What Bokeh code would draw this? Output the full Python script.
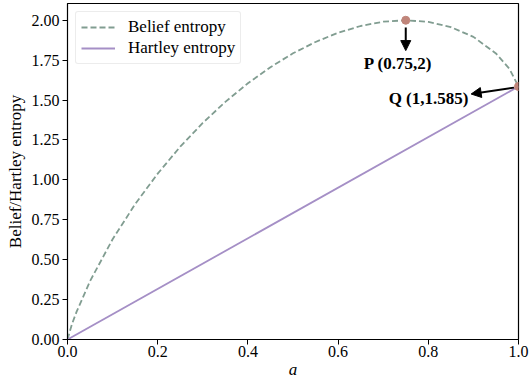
from bokeh.plotting import figure
from bokeh.models import Arrow, NormalHead, Legend, LegendItem, Range1d, FixedTicker, Label
from bokeh.embed import file_html
from bokeh.resources import INLINE

a_vals = [0.0, 0.01, 0.02, 0.05, 0.1, 0.15, 0.2, 0.25, 0.3, 0.35, 0.4, 0.45, 0.5,
          0.55, 0.6, 0.65, 0.7, 0.75, 0.8, 0.85, 0.9, 0.95, 0.98, 1.0]
belief = [0.0, 0.097, 0.173, 0.366, 0.628, 0.848, 1.039, 1.208, 1.357, 1.489, 1.605, 1.706, 1.793,
          1.864, 1.922, 1.964, 1.991, 2.0, 1.990, 1.957, 1.896, 1.792, 1.695, 1.585]
hartley_a = [0.0, 1.0]
hartley = [0.0, 1.585]
pts_a = [0.75, 1.0]
pts_v = [2.0, 1.585]
x_ticks = [0.0, 0.2, 0.4, 0.6, 0.8, 1.0]
y_ticks = [0.0, 0.25, 0.5, 0.75, 1.0, 1.25, 1.5, 1.75, 2.0]

FONT = "Liberation Serif"

p = figure(width=529, height=381, output_backend="svg", toolbar_location=None,
           x_range=Range1d(0, 1), y_range=Range1d(0, 2.105),
           min_border_left=67, min_border_right=11, min_border_top=3, min_border_bottom=40)
p.outline_line_color = "black"
p.outline_line_width = 1.2
p.grid.visible = False

bl = p.line(a_vals, belief, line_color="#819d91", line_width=1.8, line_dash="6 3")
hl = p.line(hartley_a, hartley, line_color="#a58fc6", line_width=1.8)
p.scatter(pts_a, pts_v, size=8, color="#c0857a")

for ax in (p.xaxis[0], p.yaxis[0]):
    ax.major_label_text_font = FONT
    ax.major_label_text_font_size = "16px"
    ax.major_label_text_color = "black"
    ax.axis_label_text_font = FONT
    ax.axis_label_text_font_size = "17px"
    ax.axis_label_text_color = "black"
    ax.axis_label_text_font_style = "normal"
    ax.minor_tick_line_color = None
    ax.major_tick_out = 5
    ax.major_tick_in = 0
    ax.major_label_standoff = 3
    ax.axis_line_color = "black"
    ax.major_tick_line_color = "black"

p.xaxis[0].ticker = FixedTicker(ticks=x_ticks)
p.yaxis[0].ticker = FixedTicker(ticks=y_ticks)
p.xaxis[0].major_label_overrides = {v: f"{v:.1f}" for v in x_ticks}
p.yaxis[0].major_label_overrides = {v: f"{v:.2f}" for v in y_ticks}
p.xaxis[0].major_label_standoff = 1
p.xaxis[0].axis_label = "a"
p.xaxis[0].axis_label_text_font_style = "italic"
p.xaxis[0].axis_label_standoff = 0
p.yaxis[0].axis_label = "Belief/Hartley entropy"
p.yaxis[0].axis_label_standoff = 4

p.add_layout(Arrow(end=NormalHead(size=10, fill_color="black", line_color="black"),
                   x_start=0.75, y_start=1.955, x_end=0.75, y_end=1.81,
                   line_color="black", line_width=2))
p.add_layout(Arrow(end=NormalHead(size=10, fill_color="black", line_color="black"),
                   x_start=0.99, y_start=1.578, x_end=0.895, y_end=1.538,
                   line_color="black", line_width=2))

p.add_layout(Label(x=0.733, y=1.73, text="P (0.75,2)", text_font=FONT, text_font_style="bold",
                   text_font_size="17px", text_align="center", text_baseline="middle",
                   text_color="black"))
p.add_layout(Label(x=0.889, y=1.512, text="Q (1,1.585)", text_font=FONT, text_font_style="bold",
                   text_font_size="17px", text_align="right", text_baseline="middle",
                   text_color="black"))

legend = Legend(items=[LegendItem(label="Belief entropy", renderers=[bl]),
                       LegendItem(label="Hartley entropy", renderers=[hl])],
                location="top_left")
legend.label_text_font = FONT
legend.label_text_font_size = "17px"
legend.label_text_color = "black"
legend.border_line_color = "#d9d9d9"
legend.border_radius = 3
legend.glyph_width = 34
legend.spacing = 1
legend.padding = 5
legend.margin = 8
legend.label_standoff = 13
p.add_layout(legend)

open("out.html", "w").write(file_html(p, INLINE))
